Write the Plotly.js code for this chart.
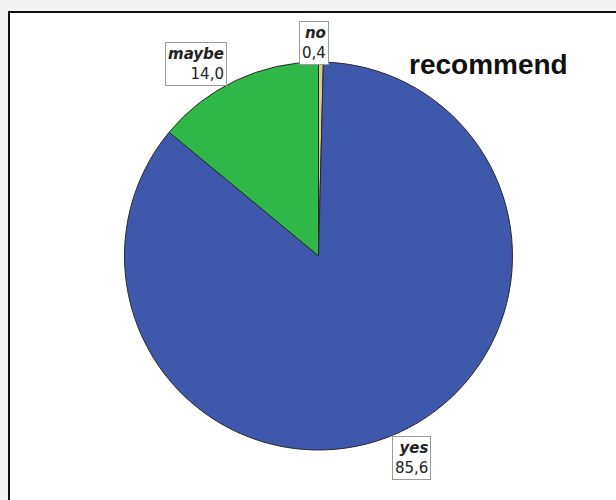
<!DOCTYPE html>
<html>
<head>
<meta charset="utf-8">
<script src="https://cdn.plot.ly/plotly-3.0.1.min.js"></script>
<style>
  html, body { margin: 0; padding: 0; background: #f3f3f3; }
  #chart { width: 616px; height: 500px; }
</style>
</head>
<body>
<div id="chart"></div>
<script>
// Data
const categories = ["no", "maybe", "yes"];
const values = [0.4, 14.0, 85.6];
const valueLabels = ["0,4", "14,0", "85,6"];
const colors = ["#D3CE97", "#2EB848", "#3E58AC"];
const chartTitle = "recommend";

const W = 616, H = 500;
const px = x => x / W;
const py = y => 1 - y / H;

// label box centres (pixel positions of the callouts)
const labelPos = [[314, 43], [196, 64], [411, 458]];

const trace = {
  type: "pie",
  labels: categories,
  values: values,
  sort: false,
  direction: "counterclockwise",
  rotation: 0,
  marker: { colors: colors, line: { color: "#2a2a2a", width: 1 } },
  textinfo: "none",
  hoverinfo: "label+value",
  showlegend: false,
  domain: { x: [px(124.5), px(512.5)], y: [py(450), py(62)] }
};

const annotations = categories.map((c, i) => ({
  xref: "paper", yref: "paper",
  x: px(labelPos[i][0]), y: py(labelPos[i][1]),
  xanchor: "center", yanchor: "middle",
  text: "<b><i>" + c + "</i></b><br>" + valueLabels[i],
  align: "right",
  showarrow: false,
  font: { family: "DejaVu Sans", size: 15, color: "#222" },
  bgcolor: "white",
  bordercolor: "#9a9a9a",
  borderwidth: 1,
  borderpad: 2
}));

annotations.push({
  xref: "paper", yref: "paper",
  x: px(489), y: py(64),
  xanchor: "center", yanchor: "middle",
  text: "<b>" + chartTitle + "</b>",
  showarrow: false,
  font: { family: "Liberation Sans, Arial", size: 28, color: "#111" }
});

const layout = {
  width: W, height: H,
  margin: { l: 0, r: 0, t: 0, b: 0 },
  paper_bgcolor: "#f3f3f3",
  plot_bgcolor: "white",
  shapes: [{
    type: "rect", xref: "paper", yref: "paper", layer: "below",
    x0: px(9), x1: px(630), y0: py(515), y1: py(12),
    fillcolor: "white",
    line: { color: "#111", width: 2 }
  }],
  annotations: annotations
};

Plotly.newPlot("chart", [trace], layout, { displayModeBar: false, staticPlot: true });
</script>
</body>
</html>
